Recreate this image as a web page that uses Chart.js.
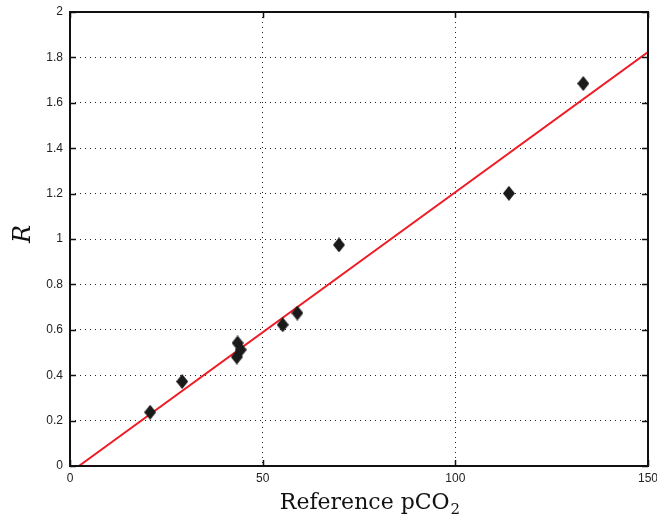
<!DOCTYPE html>
<html>
<head>
<meta charset="utf-8">
<script src="https://cdn.jsdelivr.net/npm/chart.js@4/dist/chart.umd.min.js"></script>
<style>
  html, body { margin: 0; padding: 0; background: #fff; }
  #wrap { width: 657px; height: 522px; }
</style>
</head>
<body>
<div id="wrap"><canvas id="c" width="657" height="522"></canvas></div>
<script>
// Measured samples: reference pCO2 vs. ratio R
const refPco2 = [20.8, 29.1, 43.3, 43.5, 44.3, 55.2, 59.0, 69.8, 113.9, 133.2];
const ratioR  = [0.237, 0.372, 0.480, 0.542, 0.512, 0.622, 0.674, 0.974, 1.201, 1.685];

// Linear fit endpoints
const fitX = [2.3, 150];
const fitY = [0, 1.824];

// Axis ranges and tick steps
const xRange = [0, 150];
const xStep = 50;
const yRange = [0, 2];
const yStep = 0.2;

// Axis titles (x title carries a subscript)
const xTitleMain = 'Reference pCO';
const xTitleSub = '2';
const yTitle = 'R';

const serif = '"DejaVu Serif", "Liberation Serif", serif';

// Filled diamond marker, slightly taller than wide
function diamond(w, h, color) {
  const cv = document.createElement('canvas');
  cv.width = w; cv.height = h;
  const g = cv.getContext('2d');
  g.fillStyle = color;
  g.beginPath();
  g.moveTo(w / 2, 0);
  g.lineTo(w, h / 2);
  g.lineTo(w / 2, h);
  g.lineTo(0, h / 2);
  g.closePath();
  g.fill();
  return cv;
}
const marker = diamond(12, 15, '#1a1a1a');

// Box frame with inward tick marks on all four sides, plus axis titles
const frame = {
  id: 'frame',
  afterDatasetsDraw(chart) {
    const { ctx, chartArea: a, scales } = chart;
    ctx.save();
    ctx.strokeStyle = '#111';
    ctx.lineWidth = 2;
    ctx.strokeRect(a.left, a.top, a.right - a.left, a.bottom - a.top);
    ctx.lineWidth = 1.5;
    const len = 6;
    ctx.beginPath();
    scales.x.ticks.forEach(t => {
      const px = Math.round(scales.x.getPixelForValue(t.value)) + 0.5;
      ctx.moveTo(px, a.bottom); ctx.lineTo(px, a.bottom - len);
      ctx.moveTo(px, a.top); ctx.lineTo(px, a.top + len);
    });
    scales.y.ticks.forEach(t => {
      const py = Math.round(scales.y.getPixelForValue(t.value)) + 0.5;
      ctx.moveTo(a.left, py); ctx.lineTo(a.left + len, py);
      ctx.moveTo(a.right, py); ctx.lineTo(a.right - len, py);
    });
    ctx.stroke();

    // x title with lowered subscript
    ctx.fillStyle = '#111';
    ctx.textBaseline = 'alphabetic';
    ctx.textAlign = 'left';
    const mainFont = '22px ' + serif;
    const subFont = '15px ' + serif;
    ctx.font = mainFont;
    const wMain = ctx.measureText(xTitleMain).width;
    ctx.font = subFont;
    const wSub = ctx.measureText(xTitleSub).width;
    const cx = (a.left + a.right) / 2 + 11;
    const x0 = cx - (wMain + wSub + 1) / 2;
    const base = 509;
    ctx.font = mainFont;
    ctx.fillText(xTitleMain, x0, base);
    ctx.font = subFont;
    ctx.fillText(xTitleSub, x0 + wMain + 1, base + 5);

    // y title, rotated
    ctx.save();
    ctx.translate(24, (a.top + a.bottom) / 2 - 5);
    ctx.rotate(-Math.PI / 2);
    ctx.textAlign = 'center';
    ctx.textBaseline = 'middle';
    ctx.font = 'italic 24px ' + serif;
    ctx.fillText(yTitle, 0, 0);
    ctx.restore();

    ctx.restore();
  }
};

const tickFont = { family: '"Liberation Sans", Arial, sans-serif', size: 12 };
const gridStyle = {
  color: '#222',
  lineWidth: 1,
  drawTicks: false
};

new Chart(document.getElementById('c'), {
  data: {
    datasets: [
      {
        type: 'line',
        data: fitX.map((x, i) => ({ x, y: fitY[i] })),
        borderColor: '#ee1c25',
        borderWidth: 2,
        pointRadius: 0,
        fill: false,
        order: 2
      },
      {
        type: 'scatter',
        data: refPco2.map((x, i) => ({ x, y: ratioR[i] })),
        pointStyle: marker,
        pointRadius: 7,
        order: 1
      }
    ]
  },
  options: {
    responsive: false,
    animation: false,
    layout: { padding: { top: 12, right: 9, left: 0, bottom: 0 } },
    plugins: { legend: { display: false }, tooltip: { enabled: false } },
    scales: {
      x: {
        type: 'linear',
        min: xRange[0], max: xRange[1],
        grid: { ...gridStyle },
        border: { display: false, dash: [1, 4] },
        ticks: { stepSize: xStep, color: '#222', font: tickFont, padding: 5, maxRotation: 0 },
        afterFit(s) { s.height = 56; s.paddingLeft = 0; s.paddingRight = 0; }
      },
      y: {
        type: 'linear',
        min: yRange[0], max: yRange[1],
        grid: { ...gridStyle },
        border: { display: false, dash: [1, 4] },
        ticks: {
          stepSize: yStep, color: '#222', font: tickFont, padding: 7,
          callback: v => String(Math.round(v * 10) / 10)
        },
        afterFit(s) { s.width = 70; s.paddingTop = 0; s.paddingBottom = 0; }
      }
    }
  },
  plugins: [frame]
});
</script>
</body>
</html>
